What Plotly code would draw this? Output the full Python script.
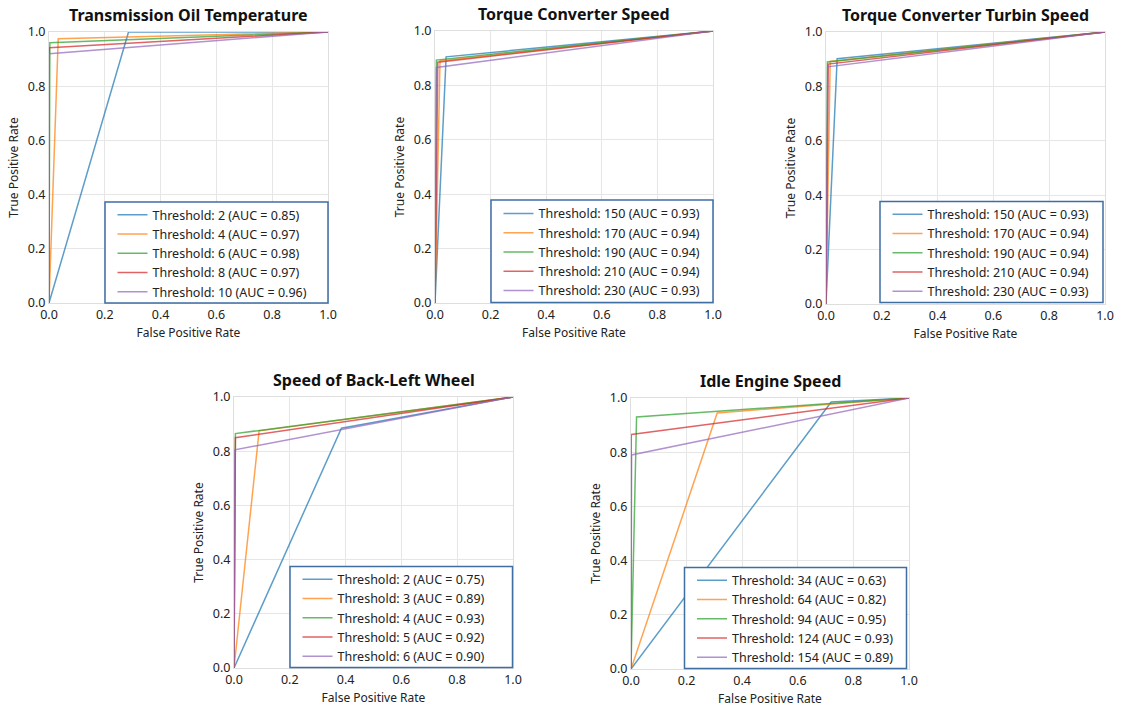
import plotly.graph_objects as go

W, H = 1129, 711

titles = ["Transmission Oil Temperature", "Torque Converter Speed",
          "Torque Converter Turbin Speed", "Speed of Back-Left Wheel",
          "Idle Engine Speed"]

# Threshold labels per subplot
thr_1 = ["2", "4", "6", "8", "10"]
thr_2 = ["150", "170", "190", "210", "230"]
thr_3 = ["150", "170", "190", "210", "230"]
thr_4 = ["2", "3", "4", "5", "6"]
thr_5 = ["34", "64", "94", "124", "154"]

auc_1 = ["0.85", "0.97", "0.98", "0.97", "0.96"]
auc_2 = ["0.93", "0.94", "0.94", "0.94", "0.93"]
auc_3 = ["0.93", "0.94", "0.94", "0.94", "0.93"]
auc_4 = ["0.75", "0.89", "0.93", "0.92", "0.90"]
auc_5 = ["0.63", "0.82", "0.95", "0.93", "0.89"]

# Middle ROC operating point (FPR, TPR) per threshold
fpr_1 = [0.285, 0.033, 0.003, 0.001, 0.001]
tpr_1 = [1.0, 0.975, 0.96, 0.942, 0.92]
fpr_2 = [0.04, 0.018, 0.005, 0.01, 0.005]
tpr_2 = [0.905, 0.89, 0.893, 0.885, 0.866]
fpr_3 = [0.04, 0.015, 0.005, 0.008, 0.006]
tpr_3 = [0.902, 0.892, 0.89, 0.882, 0.872]
fpr_4 = [0.385, 0.09, 0.005, 0.005, 0.003]
tpr_4 = [0.885, 0.875, 0.865, 0.85, 0.805]
fpr_5 = [0.72, 0.31, 0.02, 0.001, 0.002]
tpr_5 = [0.985, 0.945, 0.93, 0.865, 0.79]

colors = ["rgba(31,119,180,0.72)", "rgba(255,127,14,0.72)", "rgba(44,160,44,0.72)",
          "rgba(214,39,40,0.72)", "rgba(148,103,189,0.72)"]

# axis boxes in pixels: left, right, top, bottom
boxes = [(49, 328, 32, 303), (435, 713, 31, 303), (826, 1105, 32, 304),
         (234, 513, 397, 668), (631, 909, 398, 669)]
# legend frames in pixels: left, right, top, bottom
frames = [(105, 328, 202, 303), (491, 713, 200, 302.5), (880, 1103, 201.5, 302.5),
          (290, 512.5, 566.5, 667.5), (684.5, 906.5, 567.5, 668.5)]

thrs = [thr_1, thr_2, thr_3, thr_4, thr_5]
aucs = [auc_1, auc_2, auc_3, auc_4, auc_5]
fprs = [fpr_1, fpr_2, fpr_3, fpr_4, fpr_5]
tprs = [tpr_1, tpr_2, tpr_3, tpr_4, tpr_5]

FONT = "Noto Sans"
fig = go.Figure()
layout = dict(width=W, height=H, margin=dict(l=0, r=0, t=0, b=0, autoexpand=False),
              paper_bgcolor="white", plot_bgcolor="white",
              font=dict(family=FONT, size=12, color="#222"), annotations=[], shapes=[])

for i in range(5):
    k = "" if i == 0 else str(i + 1)
    leg = "legend" + k
    for j in range(5):
        fig.add_trace(go.Scatter(
            x=[0, fprs[i][j], 1], y=[0, tprs[i][j], 1], mode="lines",
            line=dict(color=colors[j], width=1.5),
            name=f"Threshold: {thrs[i][j]} (AUC = {aucs[i][j]})",
            xaxis="x" + k, yaxis="y" + k, legend=leg))
    l, r, t, b = boxes[i]
    ax = dict(range=[0, 1], tickvals=[0, 0.2, 0.4, 0.6, 0.8, 1.0], tickformat=".1f",
              showgrid=True, gridcolor="#e6e6e6", gridwidth=1, zeroline=False,
              showline=True, linecolor="#dedede", linewidth=1, mirror=True,
              ticks="", tickfont=dict(size=12.5, color="#222"), fixedrange=True,
              automargin=False)
    layout["xaxis" + k] = dict(ax, domain=[l / W, r / W], anchor="y" + k,
                               title=dict(text="False Positive Rate", font=dict(size=12), standoff=6))
    layout["yaxis" + k] = dict(ax, domain=[1 - b / H, 1 - t / H], anchor="x" + k,
                               title=dict(text="True Positive Rate", font=dict(size=12), standoff=6))
    fl, fr, ft, fb = frames[i]
    layout["shapes"].append(dict(
        type="rect", xref="paper", yref="paper", layer="above",
        x0=fl / W, x1=fr / W, y0=1 - fb / H, y1=1 - ft / H,
        fillcolor="white", line=dict(color="#3f6ea3", width=1.5)))
    layout[leg] = dict(x=(fl + 7.5) / W, y=1 - ((ft + fb) / 2 + 1) / H,
                       xanchor="left", yanchor="middle",
                       bgcolor="rgba(0,0,0,0)", borderwidth=0,
                       font=dict(size=12.5, color="#222"), tracegroupgap=0, itemwidth=30)
    layout["annotations"].append(dict(
        text=f"<b>{titles[i]}</b>", x=(l + r) / 2 / W, y=1 - (t - 17) / H,
        xref="paper", yref="paper", xanchor="center", yanchor="middle",
        showarrow=False, font=dict(size=16, color="#111", family=FONT)))

fig.update_layout(**layout)
fig.write_html("out.html", config={"displayModeBar": False},
               post_script="document.body.style.margin='0';document.body.style.overflow='hidden';")
